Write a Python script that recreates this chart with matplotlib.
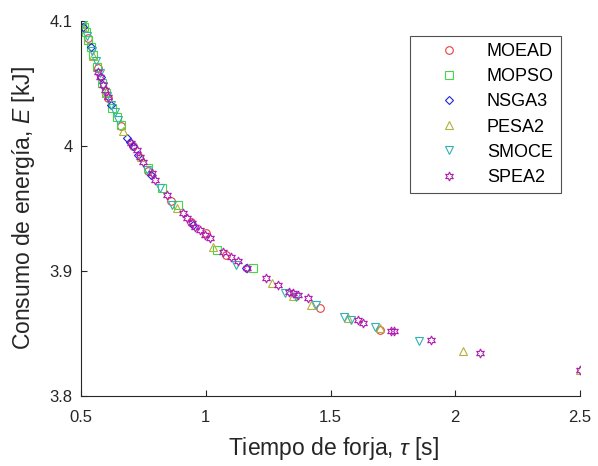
import matplotlib
matplotlib.use("Agg")
import matplotlib.pyplot as plt

plt.rcParams['font.family'] = ['Liberation Sans', 'DejaVu Sans']
plt.rcParams['mathtext.fontset'] = 'custom'
plt.rcParams['mathtext.rm'] = 'Liberation Sans'
plt.rcParams['mathtext.it'] = 'Liberation Sans:italic'

# Pareto fronts: (tiempo [s], energia [kJ])
moead_t = [0.50, 0.53, 0.57, 0.61, 0.66, 0.71, 0.77, 0.86, 0.94, 1.00, 1.08, 1.458, 1.70]
moead_e = [4.100, 4.086, 4.062, 4.038, 4.016, 4.000, 3.980, 3.956, 3.939, 3.930, 3.913, 3.870, 3.853]

mopso_t = [0.502, 0.505, 0.512, 0.52, 0.53, 0.54, 0.55, 0.565, 0.585, 0.60, 0.625, 0.644,
           0.66, 0.768, 0.825, 0.889, 1.045, 1.19]
mopso_e = [4.100, 4.098, 4.095, 4.091, 4.085, 4.079, 4.073, 4.063, 4.050, 4.042, 4.030, 4.023,
           4.017, 3.982, 3.966, 3.953, 3.917, 3.902]

nsga3_t = [0.51, 0.54, 0.58, 0.62, 0.684, 0.696, 0.708, 0.73, 0.78, 0.95, 1.16]
nsga3_e = [4.095, 4.079, 4.055, 4.033, 4.006, 4.003, 4.000, 3.993, 3.977, 3.937, 3.902]

pesa2_t = [0.51, 0.55, 0.60, 0.67, 0.74, 0.885, 1.029, 1.265, 1.35, 1.42, 1.57, 1.70, 2.03, 2.50]
pesa2_e = [4.094, 4.072, 4.043, 4.012, 3.991, 3.950, 3.919, 3.890, 3.880, 3.873, 3.862, 3.854,
           3.836, 3.821]

smoce_t = [0.505, 0.525, 0.545, 0.56, 0.575, 0.59, 0.605, 0.62, 0.635, 0.65, 0.764, 0.816,
           0.865, 1.12, 1.318, 1.36, 1.44, 1.554, 1.582, 1.68, 1.855]
smoce_e = [4.098, 4.088, 4.076, 4.068, 4.058, 4.048, 4.040, 4.033, 4.027, 4.021, 3.981, 3.966,
           3.953, 3.905, 3.882, 3.879, 3.873, 3.863, 3.861, 3.855, 3.844]

spea2_t = [0.568, 0.576, 0.588, 0.596, 0.608, 0.70, 0.724, 0.736, 0.748, 0.784, 0.796, 0.845,
           0.909, 0.925, 0.945, 0.957, 0.977, 0.997, 1.017, 1.07, 1.10, 1.13, 1.165, 1.24,
           1.29, 1.334, 1.35, 1.37, 1.41, 1.61, 1.63, 1.742, 1.754, 1.903, 2.10, 2.50]
spea2_e = [4.059, 4.055, 4.049, 4.045, 4.039, 4.002, 3.997, 3.991, 3.987, 3.978, 3.973, 3.961,
           3.946, 3.942, 3.938, 3.935, 3.933, 3.929, 3.926, 3.915, 3.911, 3.908, 3.902, 3.894,
           3.889, 3.883, 3.882, 3.881, 3.878, 3.861, 3.858, 3.852, 3.852, 3.845, 3.834, 3.821]

series = [
    ("MOEAD", moead_t, moead_e, 'o', '#e8413c'),
    ("MOPSO", mopso_t, mopso_e, 's', '#45d845'),
    ("NSGA3", nsga3_t, nsga3_e, 'D', '#2323d6'),
    ("PESA2", pesa2_t, pesa2_e, '^', '#b2b23a'),
    ("SMOCE", smoce_t, smoce_e, 'v', '#33b0b0'),
    ("SPEA2", spea2_t, spea2_e, (6, 1, 0), '#b01eb0'),
]

fig = plt.figure(figsize=(5.98, 4.66), dpi=100)
ax = fig.add_axes([81/598, 1-396/466, (580-81)/598, (396-21)/466])

for name, t, e, mk, col in series:
    ms = 4 if mk == 'D' else (6.5 if mk == (6, 1, 0) else 5.5)
    ax.plot(t, e, linestyle='none', marker=mk, markersize=ms, markerfacecolor='none',
            markeredgecolor=col, markeredgewidth=0.8, label=name)

ax.set_xlim(0.5, 2.5)
ax.set_ylim(3.8, 4.1)
ax.set_xticks([0.5, 1, 1.5, 2, 2.5])
ax.set_xticklabels(['0.5', '1', '1.5', '2', '2.5'])
ax.set_yticks([3.8, 3.9, 4.0, 4.1])
ax.set_yticklabels(['3.8', '3.9', '4', '4.1'])
ax.spines['top'].set_visible(False)
ax.spines['right'].set_visible(False)
for s in ['left', 'bottom']:
    ax.spines[s].set_color('#262626')
    ax.spines[s].set_linewidth(0.8)
ax.tick_params(direction='in', length=4, width=0.8, colors='#262626', labelsize=12,
               labelcolor='#262626')
ax.tick_params(axis='x', pad=10)
ax.tick_params(axis='y', pad=6)
ax.set_xlabel(r'Tiempo de forja, $\tau$ [s]', fontsize=16.5, color='#262626')
ax.set_ylabel(r'Consumo de energía, $E$ [kJ]', fontsize=16.5, color='#262626')
ax.xaxis.set_label_coords(0.506, -0.103)
ax.yaxis.set_label_coords(-0.088, 0.5)

leg = ax.legend(loc='upper right', bbox_to_anchor=(561/598, 1-36/466),
                bbox_transform=fig.transFigure, borderaxespad=0, fancybox=False,
                edgecolor='#262626', fontsize=13, labelspacing=0.45, handlelength=3.5,
                handletextpad=0.35, borderpad=0.4)
leg.get_frame().set_linewidth(0.8)

fig.savefig("out.png", dpi=100)
